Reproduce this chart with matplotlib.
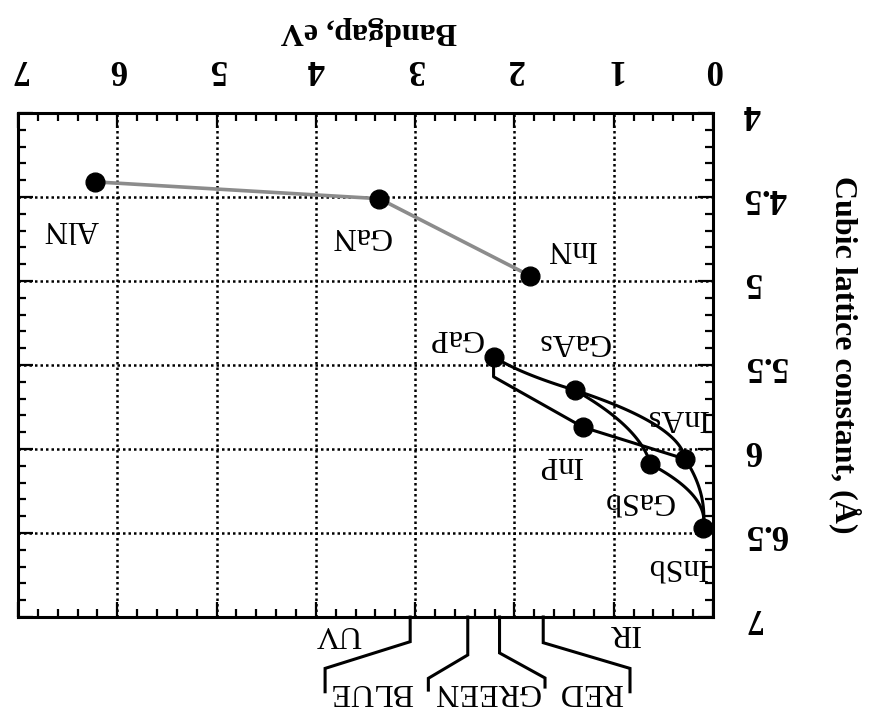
import numpy as np
import matplotlib
matplotlib.use('Agg')
import matplotlib.pyplot as plt

# ---------------- data ----------------
compounds = ['AlN', 'GaN', 'InN', 'GaP', 'GaAs', 'InP', 'InAs', 'GaSb', 'InSb']
bandgap_eV = [6.22, 3.36, 1.84, 2.21, 1.39, 1.31, 0.28, 0.63, 0.10]
lattice_A = [4.41, 4.51, 4.97, 5.45, 5.65, 5.87, 6.06, 6.09, 6.47]

nitride_path = ['AlN', 'GaN', 'InN']
# ternary alloys: end A, end B, bowing parameter (eV)
alloy_A = ['GaP', 'GaAs', 'GaAs', 'InP', 'InAs', 'GaSb']
alloy_B = ['GaAs', 'InAs', 'GaSb', 'InAs', 'InSb', 'InSb']
alloy_bowing = [-0.3, 1.0, 0.55, 0.0, 0.27, 0.68]
# GaInP (indirect -> direct crossover)
gainp_bandgap = [2.21, 2.21, 1.31]
gainp_lattice = [5.45, 5.57, 5.87]

# label positions (bandgap, lattice)
label_bandgap = [6.465, 3.545, 1.43, 2.60, 1.41, 1.54, 0.363, 0.755, 0.363]
label_lattice = [4.69, 4.732, 4.804, 5.339, 5.363, 6.095, 5.81, 6.304, 6.702]

# visible-spectrum boundaries (eV)
band_edges_eV = [3.05, 2.47, 2.15, 1.71]
band_names = ['BLUE', 'GREEN', 'RED']

x_ticks = [0, 1, 2, 3, 4, 5, 6, 7]
y_ticks = [4, 4.5, 5, 5.5, 6, 6.5, 7]
y_tick_labels = ['4', '4.5', '5', '5.5', '6', '6.5', '7']

# ---------------- figure ----------------
plt.rcParams['font.family'] = ['Liberation Serif', 'DejaVu Serif']
W, H = 874, 719
fig = plt.figure(figsize=(W / 100, H / 100), dpi=100)
ax = fig.add_axes([18 / W, 1 - 617 / H, (713 - 18) / W, (617 - 113) / H])

ax.set_xlim(7, 0)
ax.set_ylim(7, 4)

idx = {c: i for i, c in enumerate(compounds)}

# grid
ax.set_xticks(x_ticks)
ax.set_yticks(y_ticks)
ax.set_xticks(np.arange(0, 7.01, 0.2), minor=True)
ax.set_yticks(np.arange(4, 7.01, 0.1), minor=True)
ax.grid(True, which='major', color='black', linestyle=(0, (1, 1.2)), linewidth=1.8)

ax.xaxis.tick_top()
ax.yaxis.tick_right()
ax.tick_params(which='both', direction='in', top=True, bottom=True, left=True, right=True,
               labeltop=True, labelbottom=False, labelright=True, labelleft=False)
ax.tick_params(which='major', length=11, width=1.6)
ax.tick_params(which='minor', length=6, width=1.6)
ax.tick_params(axis='x', which='major', pad=20)
ax.tick_params(axis='y', which='major', pad=22)
ax.set_xticklabels([str(t) for t in x_ticks], fontsize=25, fontweight='bold', rotation=180)
ax.set_yticklabels(y_tick_labels, fontsize=25, fontweight='bold', rotation=180, va='center')
for s in ax.spines.values():
    s.set_linewidth(2.2)

# nitride line
nx = [bandgap_eV[idx[c]] for c in nitride_path]
ny = [lattice_A[idx[c]] for c in nitride_path]
ax.plot(nx, ny, color='#8c8c8c', linewidth=2.6, zorder=3)

# alloy curves (Vegard's law in lattice, quadratic bowing in gap)
xfrac = np.linspace(0, 1, 100)
for a, b, bow in zip(alloy_A, alloy_B, alloy_bowing):
    ea, eb = bandgap_eV[idx[a]], bandgap_eV[idx[b]]
    la, lb = lattice_A[idx[a]], lattice_A[idx[b]]
    eg = (1 - xfrac) * ea + xfrac * eb - bow * xfrac * (1 - xfrac)
    lc = (1 - xfrac) * la + xfrac * lb
    ax.plot(eg, lc, color='black', linewidth=2.2, zorder=3)
ax.plot(gainp_bandgap, gainp_lattice, color='black', linewidth=2.2, zorder=3)

# compound points
ax.plot(bandgap_eV, lattice_A, 'o', color='black', markersize=13.5, zorder=4)

for c, lx, ly in zip(compounds, label_bandgap, label_lattice):
    ax.text(lx, ly, c, rotation=180, ha='center', va='center', fontsize=23, zorder=5)

# spectral brackets below the axes
bracket_kink = [7.147, 7.226, 7.214, 7.153]
bracket_end_x = [3.907, 2.867, 1.692, 0.836]
bracket_foot = [7.306, 7.365, 7.363, 7.306]
bracket_bottom = [7.445, 7.435, 7.417, 7.445]
for e, k, ex, f, bt in zip(band_edges_eV, bracket_kink, bracket_end_x, bracket_foot, bracket_bottom):
    ax.plot([e, e, ex, ex], [7, k, f, bt], color='black', linewidth=2.2,
            clip_on=False, solid_joinstyle='miter')

label_x = [3.444, 2.286, 1.229]
for name, lx in zip(band_names, label_x):
    ax.text(lx, 7.446, name, rotation=180, ha='center', va='center', fontsize=23,
            clip_on=False)
ax.text(3.776, 7.101, 'UV', rotation=180, ha='center', va='center', fontsize=23, clip_on=False)
ax.text(0.896, 7.095, 'IR', rotation=180, ha='center', va='center', fontsize=23, clip_on=False)

# axis titles
fig.text(369 / W, 1 - 31 / H, 'Bandgap, eV', rotation=180, ha='center', va='center',
         fontsize=23, fontweight='bold')
fig.text(845 / W, 1 - 355 / H, 'Cubic lattice constant, (Å)', rotation=270, ha='center',
         va='center', fontsize=23, fontweight='bold')

fig.savefig('out.png', dpi=100)
